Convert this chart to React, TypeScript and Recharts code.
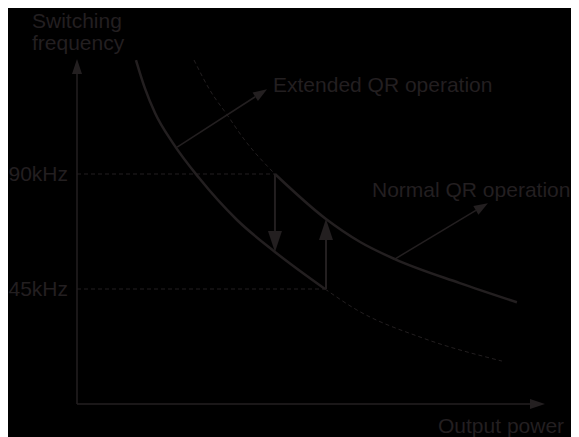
import React from "react";
import { LineChart, Line, XAxis, YAxis, ReferenceLine } from "recharts";

const INK = "#231f20";
const FONT = "'Liberation Sans', Arial, sans-serif";

// output power (relative, 0..100) against switching frequency (kHz)
const lowerSolid = [
	{ p: 12.6, f: 134.6 },
	{ p: 14.5, f: 123.6 },
	{ p: 16.7, f: 113.8 },
	{ p: 20.5, f: 102.1 },
	{ p: 26.1, f: 88.4 },
	{ p: 34.2, f: 72.0 },
	{ p: 42.3, f: 59.5 },
	{ p: 53.0, f: 45.0 },
];
const lowerDashed = [
	{ p: 53.0, f: 45.0 },
	{ p: 59.8, f: 36.8 },
	{ p: 73.9, f: 25.8 },
	{ p: 90.8, f: 16.8 },
];
const upperDashed = [
	{ p: 25.0, f: 134.6 },
	{ p: 28.4, f: 122.8 },
	{ p: 32.1, f: 113.1 },
	{ p: 35.5, f: 104.1 },
	{ p: 42.3, f: 90.0 },
];
const upperSolid = [
	{ p: 42.3, f: 90.0 },
	{ p: 53.2, f: 72.4 },
	{ p: 60.5, f: 63.4 },
	{ p: 67.9, f: 56.7 },
	{ p: 81.8, f: 47.3 },
	{ p: 94.0, f: 39.8 },
];
const freqTicks = [45, 90];

// annotation arrows [from, to]
const extendedArrow = [{ x: 21.4, y: 100.5 }, { x: 40.6, y: 123.2 }];
const normalArrow = [{ x: 67.9, y: 56.7 }, { x: 87.8, y: 78.6 }];
const downArrow = [{ x: 42.3, y: 90 }, { x: 42.3, y: 59.5 }];
const upArrow = [{ x: 53.2, y: 45 }, { x: 53.2, y: 72.4 }];
const yAxisArrow = [{ x: 0, y: 0 }, { x: 0, y: 135 }];
const xAxisArrow = [{ x: 0, y: 0 }, { x: 100, y: 0 }];

function arrowShape(head: number, halfW: number, width: number) {
	return (props: any) => {
		const { x1, y1, x2, y2 } = props;
		const len = Math.hypot(x2 - x1, y2 - y1) || 1;
		const ux = (x2 - x1) / len;
		const uy = (y2 - y1) / len;
		const bx = x2 - ux * head;
		const by = y2 - uy * head;
		const px = -uy * halfW;
		const py = ux * halfW;
		return (
			<g>
				<line x1={x1} y1={y1} x2={bx} y2={by} stroke={INK} strokeWidth={width} />
				<polygon
					points={`${x2},${y2} ${bx + px},${by + py} ${bx - px},${by - py}`}
					fill={INK}
				/>
			</g>
		);
	};
}

const textStyle = { fontFamily: FONT, fontSize: 21, fill: INK };

export default function App() {
	return (
		<div style={{ width: 566, height: 431, background: "#000", marginTop: -2 }}>
			<LineChart
				width={566}
				height={431}
				margin={{ top: 53, right: 29, bottom: 33, left: 8 }}
			>
				<XAxis dataKey="p" type="number" domain={[0, 100]} allowDataOverflow hide />
				<YAxis
					type="number"
					domain={[0, 135]}
					allowDataOverflow
					width={61}
					ticks={freqTicks}
					tickFormatter={(v) => `${v}kHz`}
					axisLine={false}
					tickLine={false}
					tickSize={0}
					tickMargin={9}
					tick={{ ...textStyle }}
				/>

				<ReferenceLine
					segment={[{ x: 0, y: 90 }, { x: 42.3, y: 90 }]}
					stroke={INK}
					strokeDasharray="4 3"
					ifOverflow="visible"
				/>
				<ReferenceLine
					segment={[{ x: 0, y: 45 }, { x: 53.2, y: 45 }]}
					stroke={INK}
					strokeDasharray="4 3"
					ifOverflow="visible"
				/>

				<Line data={lowerSolid} dataKey="f" type="monotone" stroke={INK} strokeWidth={2.5} dot={false} activeDot={false} isAnimationActive={false} />
				<Line data={lowerDashed} dataKey="f" type="monotone" stroke={INK} strokeWidth={1} strokeDasharray="4 3" dot={false} activeDot={false} isAnimationActive={false} />
				<Line data={upperDashed} dataKey="f" type="monotone" stroke={INK} strokeWidth={1} strokeDasharray="4 3" dot={false} activeDot={false} isAnimationActive={false} />
				<Line data={upperSolid} dataKey="f" type="monotone" stroke={INK} strokeWidth={2.5} dot={false} activeDot={false} isAnimationActive={false} />

				<ReferenceLine segment={yAxisArrow} ifOverflow="visible" shape={arrowShape(15, 5, 1.5)} />
				<ReferenceLine segment={xAxisArrow} ifOverflow="visible" shape={arrowShape(15, 5, 1.5)} />
				<ReferenceLine segment={extendedArrow} ifOverflow="visible" shape={arrowShape(14, 5, 1.5)} />
				<ReferenceLine segment={normalArrow} ifOverflow="visible" shape={arrowShape(14, 5, 1.5)} />
				<ReferenceLine segment={downArrow} ifOverflow="visible" shape={arrowShape(21, 7, 2)} />
				<ReferenceLine segment={upArrow} ifOverflow="visible" shape={arrowShape(21, 7, 2)} />

				<text x={24} y={22} style={textStyle}>Switching</text>
				<text x={24} y={44} style={textStyle}>frequency</text>
				<text x={265} y={86} style={textStyle}>Extended QR operation</text>
				<text x={364} y={191} style={textStyle}>Normal QR operation</text>
				<text x={430} y={427} style={textStyle}>Output power</text>
			</LineChart>
		</div>
	);
}
